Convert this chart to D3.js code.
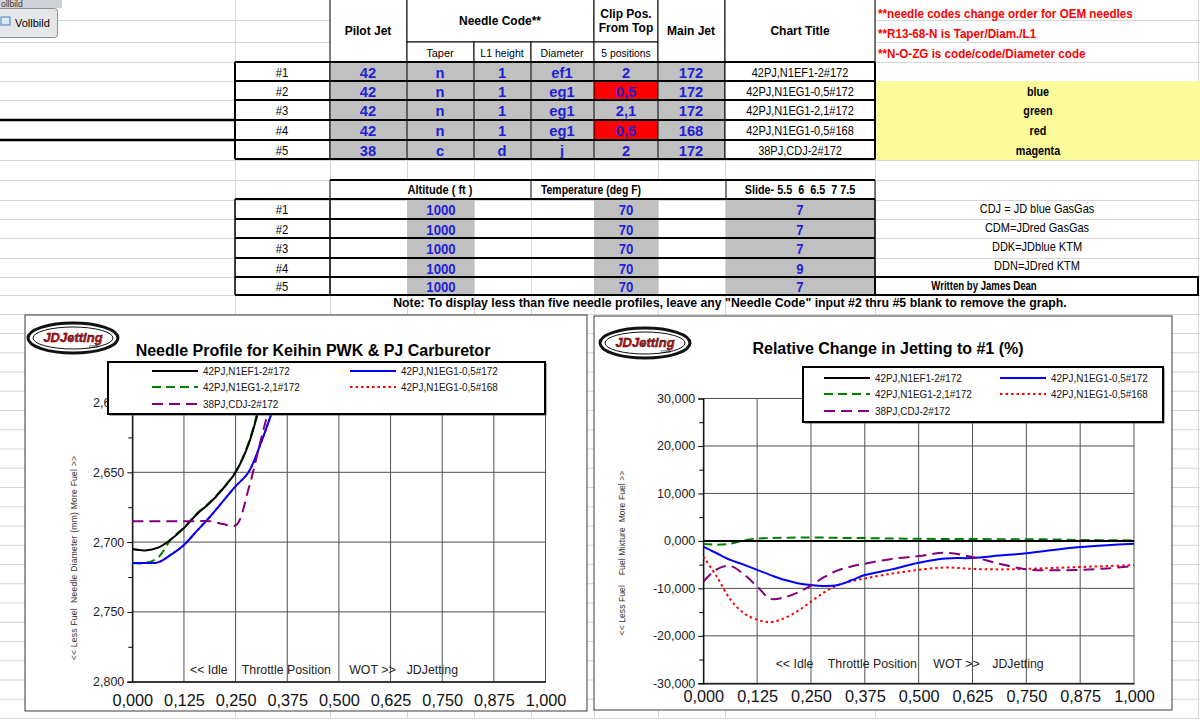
<!DOCTYPE html>
<html>
<head>
<meta charset="utf-8">
<script src="https://cdn.jsdelivr.net/npm/d3@7"></script>
<style>
  body { margin: 0; background: #fff; }
  svg { display: block; font-family: "Liberation Sans", Arial, sans-serif; }
</style>
</head>
<body>
<svg id="hoja" width="1200" height="719"></svg>
<script>
// I. Datos de la hoja
rowLabels   = ['#1', '#2', '#3', '#4', '#5']
pilotJet    = ['42', '42', '42', '42', '38']
taper       = ['n', 'n', 'n', 'n', 'c']
l1Height    = ['1', '1', '1', '1', 'd']
diameter    = ['ef1', 'eg1', 'eg1', 'eg1', 'j']
clipPos     = ['2', '0,5', '2,1', '0,5', '2']
clipFlag    = [false, true, false, true, false]
mainJet     = ['172', '172', '172', '168', '172']
chartTitles = ['42PJ,N1EF1-2#172', '42PJ,N1EG1-0,5#172', '42PJ,N1EG1-2,1#172', '42PJ,N1EG1-0,5#168', '38PJ,CDJ-2#172']
altitude    = ['1000', '1000', '1000', '1000', '1000']
temperature = ['70', '70', '70', '70', '70']
slide       = ['7', '7', '7', '9', '7']
colorNames  = ['blue', 'green', 'red', 'magenta']
redNotes    = ['**needle codes change order for OEM needles', '**R13-68-N is Taper/Diam./L1', '**N-O-ZG is code/code/Diameter code']
needleNotes = ['CDJ = JD blue GasGas', 'CDM=JDred GasGas', 'DDK=JDblue KTM', 'DDN=JDred KTM']

// II. Datos de las graficas
throttle = [0, 0.03125, 0.0625, 0.09375, 0.125, 0.15625, 0.1875, 0.21875, 0.25, 0.28125, 0.3125, 0.34375,
            0.375, 0.4375, 0.5, 0.5625, 0.625, 0.6875, 0.75, 0.8125, 0.875, 0.9375, 1]

diam1 = [2.705, 2.706, 2.704, 2.698, 2.690, 2.680, 2.672, 2.662, 2.650, 2.630, 2.598, 2.565, 2.530, 2.470, 2.410, 2.350, 2.290, 2.230, 2.170, 2.110, 2.050, 1.990, 1.930]
diam2 = [2.715, 2.715, 2.7145, 2.709, 2.702, 2.692, 2.682, 2.671, 2.660, 2.650, 2.628, 2.602, 2.575, 2.520, 2.465, 2.410, 2.355, 2.300, 2.245, 2.190, 2.135, 2.080, 2.025]
diam3 = [2.715, 2.715, 2.711, 2.698, 2.6895, 2.6795, 2.6715, 2.6615, 2.6495, 2.629, 2.596, 2.562, 2.527, 2.467, 2.407, 2.347, 2.287, 2.227, 2.167, 2.107, 2.047, 1.987, 1.927]
diam4 = [2.715, 2.715, 2.7145, 2.709, 2.702, 2.692, 2.682, 2.671, 2.660, 2.650, 2.628, 2.602, 2.575, 2.520, 2.465, 2.410, 2.355, 2.300, 2.245, 2.190, 2.135, 2.080, 2.025]
diam5 = [2.685, 2.685, 2.685, 2.685, 2.685, 2.685, 2.685, 2.687, 2.688, 2.662, 2.625, 2.590, 2.555, 2.490, 2.430, 2.370, 2.310, 2.250, 2.190, 2.130, 2.070, 2.010, 1.950]

pct1 = [0, 0, 0, 0, 0, 0, 0, 0, 0, 0, 0, 0, 0, 0, 0, 0, 0, 0, 0, 0, 0, 0, 0]
pct2 = [-1.2, -2.6, -4.0, -5.0, -6.1, -7.2, -8.2, -8.9, -9.3, -9.5, -9.3, -8.3, -7.2, -6.0, -4.6, -3.7, -3.6, -3.1, -2.6, -1.9, -1.3, -0.9, -0.6]
pct3 = [-0.6, -0.8, -0.6, 0.1, 0.5, 0.6, 0.65, 0.7, 0.7, 0.7, 0.65, 0.6, 0.6, 0.5, 0.45, 0.4, 0.4, 0.35, 0.35, 0.3, 0.2, 0.15, 0.1]
pct4 = [-3.3, -7.5, -12.3, -15.2, -16.6, -17.1, -16.3, -14.8, -12.8, -10.8, -9.3, -8.5, -7.9, -6.9, -6.1, -5.6, -5.9, -6.0, -5.9, -5.7, -5.5, -5.3, -5.1]
pct5 = [-8.6, -6.0, -5.3, -7.0, -9.6, -12.2, -11.9, -10.9, -9.4, -7.6, -6.2, -5.4, -4.8, -3.8, -3.2, -2.5, -3.4, -4.8, -6.0, -6.2, -6.1, -5.8, -5.3]

xTicks      = [0, 0.125, 0.25, 0.375, 0.5, 0.625, 0.75, 0.875, 1]
needleTicks = [2.6, 2.65, 2.7, 2.75, 2.8]
needleMinor = [2.625, 2.675, 2.725, 2.775]
pctTicks    = [-30, -20, -10, 0, 10, 20, 30]
pctMinor    = [-25, -15, -5, 5, 15, 25]
plotNotes   = ['<< Idle', 'Throttle Position', 'WOT >>', 'JDJetting']

seriesColor = ['#000000', '#0000ff', '#008000', '#ff0000', '#800080']
seriesDash  = [null, null, '9,5', '2.5,3', '11,6']
drawOrder   = [3, 2, 0, 1, 4]

// III. Configuración
svg = d3.select('#hoja')
fmt = d3.formatLocale({ decimal: ',', thousands: '.', grouping: [3], currency: ['', ''], minus: '-' }).format('.3f')

// texto; sx estrecha el texto (la hoja usa una letra angosta)
function txt(parent, x, y, s, o) {
  o = o || {}
  t = parent.append('text')
            .attr('text-anchor', o.anchor || 'middle')
            .attr('font-size', (o.size || 12) + 'px')
            .attr('font-weight', o.bold ? 'bold' : 'normal')
            .attr('fill', o.fill || '#000')
            .text(s)
  if (o.sx) t.attr('transform', `translate(${x}, ${y}) scale(${o.sx}, 1)`)
  else t.attr('x', x).attr('y', y)
  return t
}

function box(parent, x1, y1, x2, y2, fill, sw) {
  return parent.append('rect')
               .attr('x', x1).attr('y', y1)
               .attr('width', x2 - x1).attr('height', y2 - y1)
               .attr('fill', fill || 'none')
               .attr('stroke', sw === 0 ? 'none' : '#000')
               .attr('stroke-width', sw || 1)
}

function hline(parent, x1, x2, y, sw, c) {
  parent.append('line').attr('x1', x1).attr('x2', x2).attr('y1', y).attr('y2', y)
        .attr('stroke', c || '#000').attr('stroke-width', sw || 1)
}

function vline(parent, x, y1, y2, sw, c) {
  parent.append('line').attr('x1', x).attr('x2', x).attr('y1', y1).attr('y2', y2)
        .attr('stroke', c || '#000').attr('stroke-width', sw || 1)
}

// IV. Cuadricula de la hoja
grid = svg.append('g')
gridRows = [20.5, 42.5, 62.5, 81.5, 100.5, 120.5, 140.5, 160.5, 180.5, 200.5, 219.5, 238.5, 258.5, 277.5, 295.5, 314.5]
for (yy = 333.5; yy < 719; yy += 19.25) gridRows.push(yy)
gridRows.forEach(yy => hline(grid, 0, 1200, yy, 1, '#d6d6d6'))
;[235.5, 330.5, 407.5, 474.5, 531.5, 594.5, 658.5, 725.5, 875.5, 1198.5].forEach(xx => vline(grid, xx, 0, 719, 1, '#d6d6d6'))

// boton Vollbild
box(svg, 0, -2, 62, 8, '#cfd3d8', 0)
txt(svg, 1, 7, 'ollbild', { anchor: 'start', size: 8.5, fill: '#333' })
box(svg, -4, 8.5, 57.5, 37.5, '#e4e6e8', 1).attr('stroke', '#8a8f96').attr('rx', 3)
svg.append('rect').attr('x', 1).attr('y', 17).attr('width', 9).attr('height', 8).attr('fill', '#dbe6f3').attr('stroke', '#4a7fc0')
txt(svg, 15, 27, 'Vollbild', { anchor: 'start', size: 11 })

// V. Tabla superior
top_ = svg.append('g')
rowY = [62, 81, 100, 120, 140, 159]

box(top_, 330, -1, 407, 62, '#fff')
box(top_, 407, -1, 594, 42, '#fff')
box(top_, 407, 42, 474, 62, '#fff')
box(top_, 474, 42, 531, 62, '#fff')
box(top_, 531, 42, 594, 62, '#fff')
box(top_, 594, -1, 658, 42, '#fff')
box(top_, 594, 42, 658, 62, '#fff')
box(top_, 658, -1, 725, 62, '#fff')
box(top_, 725, -1, 875, 62, '#fff')
txt(top_, 368, 35, 'Pilot Jet', { bold: true })
txt(top_, 500, 25, 'Needle Code**', { bold: true })
txt(top_, 626, 18, 'Clip Pos.', { bold: true })
txt(top_, 626, 32, 'From Top', { bold: true })
txt(top_, 691, 35, 'Main Jet', { bold: true })
txt(top_, 800, 35, 'Chart Title', { bold: true })
txt(top_, 440, 57, 'Taper', { size: 11 })
txt(top_, 502, 57, 'L1 height', { size: 11.5, sx: 0.92 })
txt(top_, 562, 57, 'Diameter', { size: 11.5, sx: 0.92 })
txt(top_, 626, 57, '5 positions', { size: 11.5, sx: 0.9 })

rowLabels.forEach((r, i) => {
  y0 = rowY[i]; y1 = rowY[i + 1]; ym = (y0 + y1) / 2 + 5
  box(top_, 235, y0, 330, y1, '#fff')
  box(top_, 330, y0, 725, y1, '#c0c0c0')
  if (clipFlag[i]) box(top_, 594, y0, 658, y1, '#ff0000', 0)
  box(top_, 725, y0, 875, y1, '#fff')
  ;[407, 474, 531, 594, 658].forEach(xx => vline(top_, xx, y0, y1, 1))
  txt(top_, 282, ym, r, { size: 12.5, sx: 0.9 })
  vals = [pilotJet[i], taper[i], l1Height[i], diameter[i], clipPos[i], mainJet[i]]
  ;[368, 440, 502, 562, 626, 691].forEach((xx, j) => {
    txt(top_, xx, ym + 1, vals[j], { bold: true, size: 15.5, fill: '#1f1fd6', sx: 0.95 })
  })
  txt(top_, 800, ym, chartTitles[i], { size: 12.5, sx: 0.88 })
})
rowY.forEach(yy => hline(top_, 235, 875, yy, 2))
vline(top_, 235, 62, 159, 2); vline(top_, 875, 62, 159, 2)
hline(top_, 0, 235, 120, 2.5); hline(top_, 0, 235, 140, 2.5)

// notas rojas
redNotes.forEach((n, i) => txt(svg, 878, [18, 38, 58][i], n, { anchor: 'start', bold: true, fill: '#ff0000', sx: 0.97 }))

// cuadro amarillo
box(svg, 876, 81, 1200, 160, '#fbfb9c', 0)
colorNames.forEach((c, i) => txt(svg, 1038, [96, 115, 135, 155][i], c, { bold: true, sx: 0.9 }))

// VI. Tabla intermedia
mid = svg.append('g')
midY = [199, 219, 238, 258, 277, 295]
box(mid, 330, 180, 875, 199, '#fff', 0)
hline(mid, 330, 875, 180, 2); hline(mid, 235, 875, 199, 2)
;[330, 531, 726, 875].forEach(xx => vline(mid, xx, 180, 199, 1))
txt(mid, 440, 194, 'Altitude ( ft )', { bold: true, sx: 0.92 })
txt(mid, 591, 194, 'Temperature (deg F)', { bold: true, sx: 0.87 })
txt(mid, 800, 194, 'Slide- 5.5  6  6.5  7 7.5', { bold: true, sx: 0.9 })
  .attr('xml:space', 'preserve').style('white-space', 'pre')

rowLabels.forEach((r, i) => {
  y0 = midY[i]; y1 = midY[i + 1]; ym = (y0 + y1) / 2 + 5
  box(mid, 407, y0, 474, y1, '#c0c0c0', 0)
  box(mid, 594, y0, 658, y1, '#c0c0c0', 0)
  box(mid, 726, y0, 875, y1, '#c0c0c0', 0)
  txt(mid, 282, ym, r, { size: 12.5, sx: 0.9 })
  txt(mid, 441, ym + 1, altitude[i], { bold: true, size: 15.5, fill: '#1f1fd6', sx: 0.85 })
  txt(mid, 626, ym + 1, temperature[i], { bold: true, size: 15.5, fill: '#1f1fd6', sx: 0.85 })
  txt(mid, 800, ym + 1, slide[i], { bold: true, size: 15.5, fill: '#1f1fd6', sx: 0.85 })
})
midY.forEach(yy => hline(mid, 235, 875, yy, 2))
;[235, 330, 875].forEach(xx => vline(mid, xx, 199, 295, 1.5))

needleNotes.forEach((n, i) => txt(svg, 1037, [213, 232, 251, 270][i], n, { size: 12.5, sx: 0.88 }))
box(svg, 875, 277, 1198, 295, 'none', 2)
txt(svg, 984, 290, 'Written by James Dean', { bold: true, sx: 0.8 })
txt(svg, 730, 307, 'Note: To display less than five needle profiles, leave any "Needle Code" input #2 thru #5 blank to remove the graph.', { bold: true, size: 12.3 })

// VII. Graficas
function logo(parent, cx, cy) {
  parent.append('ellipse').attr('cx', cx).attr('cy', cy).attr('rx', 45).attr('ry', 15)
        .attr('fill', '#fff').attr('stroke', '#111').attr('stroke-width', 3)
  parent.append('ellipse').attr('cx', cx).attr('cy', cy).attr('rx', 40).attr('ry', 11)
        .attr('fill', 'none').attr('stroke', '#111').attr('stroke-width', 1)
  txt(parent, cx, cy + 4, 'JDJetting', { bold: true, size: 13, fill: '#e01010' })
    .attr('font-style', 'italic').attr('stroke', '#000').attr('stroke-width', 0.4)
  txt(parent, cx + 20, cy + 10, '.com', { size: 5, fill: '#000' })
}

function chart(cfg) {
  g = svg.append('g')
  f = cfg.frame
  box(g, f[0], f[1], f[2], f[3], '#fff', 1).attr('stroke', '#3a3a3a')
  logo(g, cfg.logo[0], cfg.logo[1])
  txt(g, cfg.titleX, cfg.titleY, cfg.title, { bold: true, size: 16 })

  x = d3.scaleLinear().domain([0, 1]).range([cfg.left, cfg.right])
  y = d3.scaleLinear().domain(cfg.yDomain).range([cfg.top, cfg.bottom])

  // rejilla
  grid = g.append('g')
  xTicks.forEach(v => vline(grid, x(v), cfg.top, cfg.bottom, 1, '#505050'))
  cfg.yTicks.forEach(v => hline(grid, cfg.left, cfg.right, y(v), 1, '#505050'))

  // ejes
  yAxisCall = d3.axisLeft(y).tickValues(cfg.yTicks).tickSize(5).tickFormat(fmt)
  ya = g.append('g').attr('transform', `translate(${cfg.left}, 0)`).call(yAxisCall)
  ya.selectAll('text').attr('font-size', '12.5px').attr('fill', '#222').style('font-family', '"Liberation Sans", Arial')
  g.append('g').attr('transform', `translate(${cfg.left}, 0)`)
   .call(d3.axisLeft(y).tickValues(cfg.minor).tickSize(4).tickFormat(''))
   .select('.domain').remove()

  xAxisCall = d3.axisBottom(x).tickValues(xTicks).tickSize(0).tickFormat(fmt)
  xa = g.append('g').attr('transform', `translate(0, ${cfg.bottom})`).call(xAxisCall)
  xa.selectAll('text').attr('y', cfg.xLabelDy).attr('dy', '0.35em')
    .attr('font-size', '16.3px').attr('fill', '#111').style('font-family', '"Liberation Sans", Arial')
  g.selectAll('.domain').attr('stroke', '#000').attr('stroke-width', 1.2)

  txt(g, 0, 0, cfg.yLabel, { size: 8.5, fill: '#333' })
    .attr('transform', `translate(${cfg.yLabelX}, ${cfg.yLabelY}) rotate(-90)`)
    .attr('letter-spacing', cfg.yLabelSpacing)
    .attr('xml:space', 'preserve').style('white-space', 'pre')

  plotNotes.forEach((n, i) => txt(g, x(cfg.notes[i]), cfg.notesY, n, { anchor: 'start', size: 13, fill: '#222', sx: 0.95 }))

  // lineas
  g.append('clipPath').attr('id', cfg.id)
   .append('rect').attr('x', cfg.left).attr('y', cfg.top)
   .attr('width', cfg.right - cfg.left).attr('height', cfg.bottom - cfg.top)

  linea = d3.line().x((d, i) => x(throttle[i])).y(d => y(d)).curve(d3.curveCatmullRom.alpha(0.5))
  lines = g.append('g').attr('clip-path', `url(#${cfg.id})`)
  drawOrder.forEach(k => {
    p = lines.append('path').attr('d', linea(cfg.series[k]))
             .attr('fill', 'none').attr('stroke', seriesColor[k]).attr('stroke-width', 2)
    if (seriesDash[k]) p.attr('stroke-dasharray', seriesDash[k])
  })

  // leyenda
  L = cfg.legend
  box(g, L.x + 1.5, L.y + 1.5, L.x + L.w + 1.5, L.y + L.h + 1.5, '#555', 0)
  box(g, L.x, L.y, L.x + L.w, L.y + L.h, '#fff', 2)
  chartTitles.forEach((n, i) => {
    lx = L.col[i % 2]; ly = L.rowY[Math.floor(i / 2)]
    p = g.append('line').attr('x1', lx).attr('x2', lx + 46).attr('y1', ly).attr('y2', ly)
         .attr('stroke', seriesColor[i]).attr('stroke-width', 2)
    if (seriesDash[i]) p.attr('stroke-dasharray', seriesDash[i])
    txt(g, lx + 51, ly + 4, n, { anchor: 'start', size: 11.5, fill: '#111', sx: 0.86 })
  })
}

chart({
  id: 'clipNeedle',
  frame: [25, 315, 587, 711],
  left: 132.3, right: 545.5, top: 402.5, bottom: 681.7,
  yDomain: [2.6, 2.8], yTicks: needleTicks, minor: needleMinor,
  series: [diam1, diam2, diam3, diam4, diam5],
  title: 'Needle Profile for Keihin PWK & PJ Carburetor', titleX: 313, titleY: 356,
  yLabel: '<< Less Fuel  Needle Diameter (mm) More Fuel >>', yLabelX: 77, yLabelY: 558, yLabelSpacing: '0.25px',
  legend: { x: 108, y: 362, w: 437, h: 52, col: [152, 350], rowY: [371, 387, 404] },
  notes: [0.1395, 0.265, 0.525, 0.664], notesY: 674,
  xLabelDy: 18.3,
  logo: [73, 338]
})

chart({
  id: 'clipPct',
  frame: [594, 316, 1172, 710],
  left: 703.3, right: 1134, top: 398.5, bottom: 683.3,
  yDomain: [30, -30], yTicks: pctTicks, minor: pctMinor,
  series: [pct1, pct2, pct3, pct4, pct5],
  title: 'Relative Change in Jetting to #1 (%)', titleX: 888, titleY: 354,
  yLabel: '<< Less Fuel    Fuel Mixture  More Fuel >>', yLabelX: 625, yLabelY: 553, yLabelSpacing: '0.1px',
  legend: { x: 803, y: 367, w: 360, h: 55, col: [824, 1000], rowY: [378, 394, 411] },
  notes: [0.168, 0.289, 0.534, 0.671], notesY: 668,
  xLabelDy: 13.4,
  logo: [645, 343]
})
</script>
</body>
</html>
